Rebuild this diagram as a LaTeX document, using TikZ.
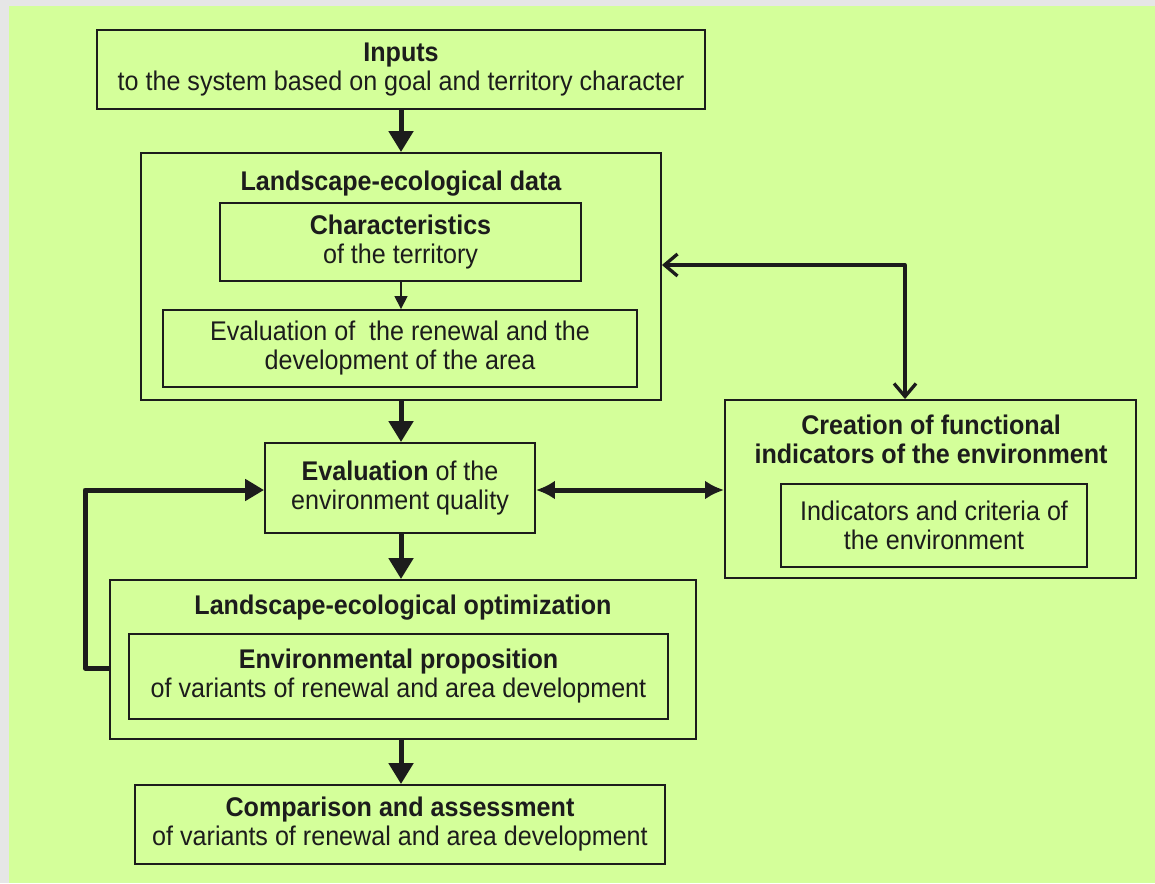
\documentclass[tikz,border=0pt]{standalone}
\usepackage{fontspec}
\setmainfont[FakeStretch=0.93]{Liberation Sans}
\usetikzlibrary{arrows.meta}
\definecolor{bggreen}{RGB}{212,255,154}
\definecolor{bggrey}{RGB}{230,230,230}
\definecolor{ink}{RGB}{28,28,28}
\tikzset{
  box/.style={draw=ink, line width=1.9pt, inner sep=0pt, align=center, text=ink,
    font=\fontsize{27}{29}\selectfont},
  ttl/.style={inner sep=0pt, align=center, text=ink, font=\fontsize{27}{29}\selectfont\bfseries},
  bigarrow/.style={draw=ink, line width=5pt, -{Triangle[length=21pt,width=24pt]}},
  thinarrow/.style={draw=ink, line width=1.6pt, -{Triangle[length=13pt,width=13pt]}},
  dblarrow/.style={draw=ink, line width=5pt, {Latex[length=19pt,width=19pt]}-{Latex[length=19pt,width=19pt]}},
  openarrow/.style={draw=ink, line width=3.3pt, line join=round,
    {Straight Barb[length=13pt,width=22pt,line width=3.3pt]}-{Straight Barb[length=13pt,width=22pt,line width=3.3pt]}},
  looparrow/.style={draw=ink, line width=5pt, line join=round, -{Triangle[length=19pt,width=21pt]}}
}
\begin{document}
\begin{tikzpicture}[x=1pt,y=-1pt]
\useasboundingbox (0,0) rectangle (1155,883);
\fill[bggrey] (0,0) rectangle (1155,883);
\fill[bggreen] (9,6) rectangle (1155,883);

% Inputs
\node[box, minimum width=608pt, minimum height=79pt] (inputs) at (401,69.5)
  {\textbf{Inputs}\\to the system based on goal and territory character};

% Landscape-ecological data
\node[box, minimum width=520pt, minimum height=247pt] (ldata) at (401,276.5) {};
\node[ttl] (ldatat) at (401,184) {Landscape-ecological data};
\node[box, minimum width=361pt, minimum height=78pt] (charac) at (400.5,242)
  {\textbf{Characteristics}\\of the territory};
\node[box, minimum width=474pt, minimum height=77pt] (renew) at (400,348.5)
  {Evaluation of\ \ the renewal and the\\development of the area};

% Evaluation of environment quality
\node[box, minimum width=270pt, minimum height=90pt] (evalq) at (400,488)
  {\textbf{Evaluation} of the\\environment quality};

% Optimization
\node[box, minimum width=586pt, minimum height=159pt] (opt) at (403,659.5) {};
\node[ttl] (optt) at (403,608) {Landscape-ecological optimization};
\node[box, minimum width=539pt, minimum height=85pt] (prop) at (398.5,676.5)
  {\textbf{Environmental proposition}\\of variants of renewal and area development};

% Comparison
\node[box, minimum width=530pt, minimum height=79pt] (comp) at (400,824.5)
  {\textbf{Comparison and assessment}\\of variants of renewal and area development};

% Creation of functional indicators
\node[box, minimum width=411pt, minimum height=178pt] (create) at (930.5,489) {};
\node[ttl] (createt) at (931,439.5) {Creation of functional\\indicators of the environment};
\node[box, minimum width=306pt, minimum height=83pt] (indic) at (934,525.5)
  {Indicators and criteria of\\the environment};

% Connectors
\draw[bigarrow] (inputs.south -| 401,0) -- (ldata.north -| 401,0);
\draw[thinarrow] (charac.south -| 401,0) -- (renew.north -| 401,0);
\draw[bigarrow] (ldata.south -| 401,0) -- (evalq.north -| 401,0);
\draw[bigarrow] (evalq.south -| 401,0) -- (opt.north -| 401,0);
\draw[bigarrow] (opt.south -| 401,0) -- (comp.north -| 401,0);
\draw[dblarrow] (evalq.east |- 0,490) -- (create.west |- 0,490);

\coordinate (rc) at (905,265);
\draw[openarrow] (ldata.east |- rc) -- (rc) -- (rc |- create.north);

\coordinate (lc) at (85,668);
\draw[looparrow] (opt.west |- lc) -- (lc) -- (lc |- 0,490) -- (evalq.west |- 0,490);
\end{tikzpicture}
\end{document}
